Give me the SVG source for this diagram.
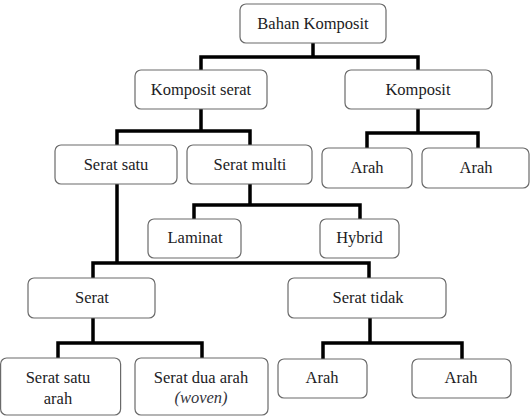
<svg xmlns="http://www.w3.org/2000/svg" width="531" height="416" viewBox="0 0 531 416">
<style>
.box{fill:#fff;stroke:#6a6a6a;stroke-width:1.2}
.t{font-size:16.5px;fill:#1c1c24;text-anchor:middle}
.it{font-style:italic;fill:#33343d}
.c{fill:none;stroke:#000;stroke-width:3.5;stroke-linejoin:miter;stroke-linecap:butt}
</style>
<rect width="531" height="416" fill="#fff"/>
<g id="connectors">
<path class="c" d="M313,43V57M201,70V57H418V70"/>
<path class="c" d="M418,109V133M367,148V133H478V148"/>
<path class="c" d="M201,109V131M117,145V131H250V145"/>
<path class="c" d="M250,184V205M194,219V205H360V219"/>
<path class="c" d="M117,184V263M93,278V263H369V278"/>
<path class="c" d="M93,318V343M58,358V343H202V358"/>
<path class="c" d="M370,318V343M323,359V343H462V359"/>
</g>
<g font-family="Liberation Serif, Times New Roman, Tinos, Noto Serif, DejaVu Serif, FreeSerif, serif">
<g id="n-bahan"><rect class="box" x="240" y="4" width="146" height="39" rx="6"/><text class="t" x="313" y="28.5">Bahan Komposit</text></g>
<g id="n-kserat"><rect class="box" x="135" y="70" width="132" height="39" rx="6"/><text class="t" x="201" y="94.5">Komposit serat</text></g>
<g id="n-komposit"><rect class="box" x="345" y="70" width="147" height="39" rx="6"/><text class="t" x="418" y="94.5">Komposit</text></g>
<g id="n-seratsatu"><rect class="box" x="55" y="145" width="122" height="39" rx="6"/><text class="t" x="116" y="169.5">Serat satu</text></g>
<g id="n-seratmulti"><rect class="box" x="187" y="145" width="125" height="39" rx="6"/><text class="t" x="250" y="169.5">Serat multi</text></g>
<g id="n-arah1"><rect class="box" x="322" y="148" width="90" height="40" rx="6"/><text class="t" x="367" y="173">Arah</text></g>
<g id="n-arah2"><rect class="box" x="422" y="148" width="107" height="40" rx="6"/><text class="t" x="476" y="173">Arah</text></g>
<g id="n-laminat"><rect class="box" x="148" y="219" width="93" height="39" rx="6"/><text class="t" x="195" y="243">Laminat</text></g>
<g id="n-hybrid"><rect class="box" x="320" y="219" width="79" height="39" rx="6"/><text class="t" x="359.5" y="243">Hybrid</text></g>
<g id="n-serat"><rect class="box" x="28" y="278" width="127" height="40" rx="6"/><text class="t" x="92" y="302.5">Serat</text></g>
<g id="n-serattidak"><rect class="box" x="288" y="278" width="158" height="40" rx="6"/><text class="t" x="368" y="302.5">Serat tidak</text></g>
<g id="n-satuarah"><rect class="box" x="0.6" y="358" width="120" height="57" rx="6"/><text class="t" x="58" y="383">Serat satu</text><text class="t" x="58" y="404">arah</text></g>
<g id="n-duaarah"><rect class="box" x="135" y="358" width="133" height="57" rx="6"/><text class="t" x="201" y="383">Serat dua arah</text><text class="t it" x="201" y="403">(woven)</text></g>
<g id="n-arah3"><rect class="box" x="278" y="359" width="89" height="39" rx="6"/><text class="t" x="322" y="383">Arah</text></g>
<g id="n-arah4"><rect class="box" x="412" y="359" width="99" height="39" rx="6"/><text class="t" x="461" y="383">Arah</text></g>
</g>
</svg>
